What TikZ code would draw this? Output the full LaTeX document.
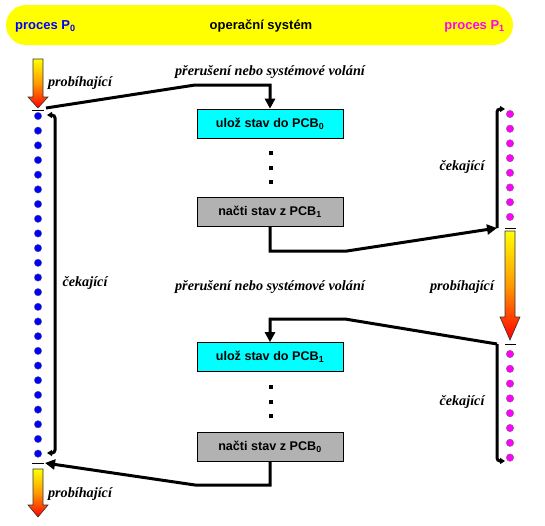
\documentclass[tikz,border=0pt]{standalone}
\usepackage{fontspec}
\setmainfont{Liberation Serif}
\setsansfont{Liberation Sans}
\usetikzlibrary{arrows.meta}
\definecolor{bgyellow}{RGB}{255,255,0}
\definecolor{boxcyan}{RGB}{0,255,255}
\definecolor{boxgray}{RGB}{178,178,178}
\definecolor{pblue}{RGB}{0,0,255}
\definecolor{pmag}{RGB}{255,0,255}
\tikzset{
  opbox/.style={draw=black, line width=0.6pt, minimum width=146pt, minimum height=29pt, inner sep=0pt, font=\sffamily\bfseries\fontsize{12.6}{14}\selectfont},
  savebox/.style={opbox, fill=boxcyan},
  loadbox/.style={opbox, fill=boxgray},
  conn/.style={line width=3pt, -{Triangle[length=10pt,width=10pt]}},
  brk/.style={line width=3pt, rounded corners=3pt},
  brktip/.tip={Triangle[length=5pt,width=6pt]},
  lbl/.style={font=\bfseries\itshape\fontsize{14.2}{16}\selectfont, inner sep=0pt},
  head/.style={font=\sffamily\bfseries\fontsize{13}{15}\selectfont, inner sep=0pt},
  bdot/.style={circle, fill=pblue, draw=black!60, line width=0.3pt, minimum size=7.5pt, inner sep=0pt},
  mdot/.style={circle, fill=pmag, draw=black!60, line width=0.3pt, minimum size=7.5pt, inner sep=0pt},
  sq/.style={fill=black, minimum size=3.2pt, inner sep=0pt},
  sep/.style={line width=0.8pt},
  runarrow/.style={top color=bgyellow, bottom color=red, middle color=orange!80!yellow, draw=black!80, line width=0.6pt}
}
\begin{document}
\begin{tikzpicture}[x=1pt,y=-1pt]
\useasboundingbox (0,0) rectangle (545,525);
% banner
\fill[bgyellow, rounded corners=20pt] (6,5) rectangle (513,45);
\node[head, text=pblue, anchor=west] (hp0) at (15,26) {proces P\textsubscript{0}};
\node[head] (hos) at (261,26) {operační systém};
\node[head, text=pmag, anchor=east] (hp1) at (505,26) {proces P\textsubscript{1}};

% running arrows
\shade[runarrow] (33,59) -- (43,59) -- (43,97) -- (48,97) -- (38,108) -- (28,97) -- (33,97) -- cycle;
\shade[runarrow] (505,231) -- (515,231) -- (515,317) -- (520,317) -- (510,340) -- (500,317) -- (505,317) -- cycle;
\shade[runarrow] (33,469) -- (43,469) -- (43,505) -- (48,505) -- (38,517) -- (28,505) -- (33,505) -- cycle;

% separators
\draw[sep] (32,110) -- (44,110);
\draw[sep] (505,228) -- (516,228);
\draw[sep] (505,344) -- (516,344);
\draw[sep] (32,463) -- (44,463);

% blue dots
\foreach \i in {0,...,23} {
  \node[bdot] (b\i) at (38,{116+\i*14.68}) {};
}
% magenta dots
\foreach \i in {0,...,7} {
  \node[mdot] (m\i) at (510,{114+\i*14.7}) {};
  \node[mdot] (n\i) at (510,{354+\i*14.8}) {};
}

% boxes
\node[savebox] (s0) at (270,123.5) {ulož stav do PCB\textsubscript{0}};
\node[loadbox] (l1) at (270,211.5) {načti stav z PCB\textsubscript{1}};
\node[savebox] (s1) at (270,357) {ulož stav do PCB\textsubscript{1}};
\node[loadbox] (l0) at (270,447) {načti stav z PCB\textsubscript{0}};

% ellipsis squares
\foreach \y in {153,168,182,387,402,416} {
  \node[sq] at (271,\y) {};
}

% labels
\node[lbl] (r1) at (80,83) {probíhající};
\node[lbl] (i1) at (270,72) {přerušení nebo systémové volání};
\node[lbl] (w1) at (85,283) {čekající};
\node[lbl] (w2) at (462,167) {čekající};
\node[lbl] (r2) at (462,287) {probíhající};
\node[lbl] (i2) at (270,287) {přerušení nebo systémové volání};
\node[lbl] (w3) at (462,402) {čekající};
\node[lbl] (r3) at (80,494) {probíhající};

% anchor coordinates
\coordinate (p0end) at (46,108);
\coordinate (p0back) at (45,463);
\coordinate (p1in) at (497,228);
\coordinate (p1end) at (497,344);

% connectors
\draw[conn] (p0end) -- (195,85) -- (s0.north |- 0,85) -- (s0.north);
\draw[conn] (l1.south) -- (270,251) -- (347,251) -- (p1in);
\draw[conn] (p1end) -- (345,319) -- (s1.north |- 0,319) -- (s1.north);
\draw[conn] (l0.south) -- (270,485) -- (195,485) -- (p0back);

% brackets
\draw[brk, brktip-brktip] (47,115) -- (55,115) -- (55,453) -- (47,453);
\draw[brk, -brktip] (p1in) -- (497,109) -- (505,109);
\draw[brk, -brktip] (p1end) -- (497,461) -- (505,461);
\end{tikzpicture}
\end{document}
